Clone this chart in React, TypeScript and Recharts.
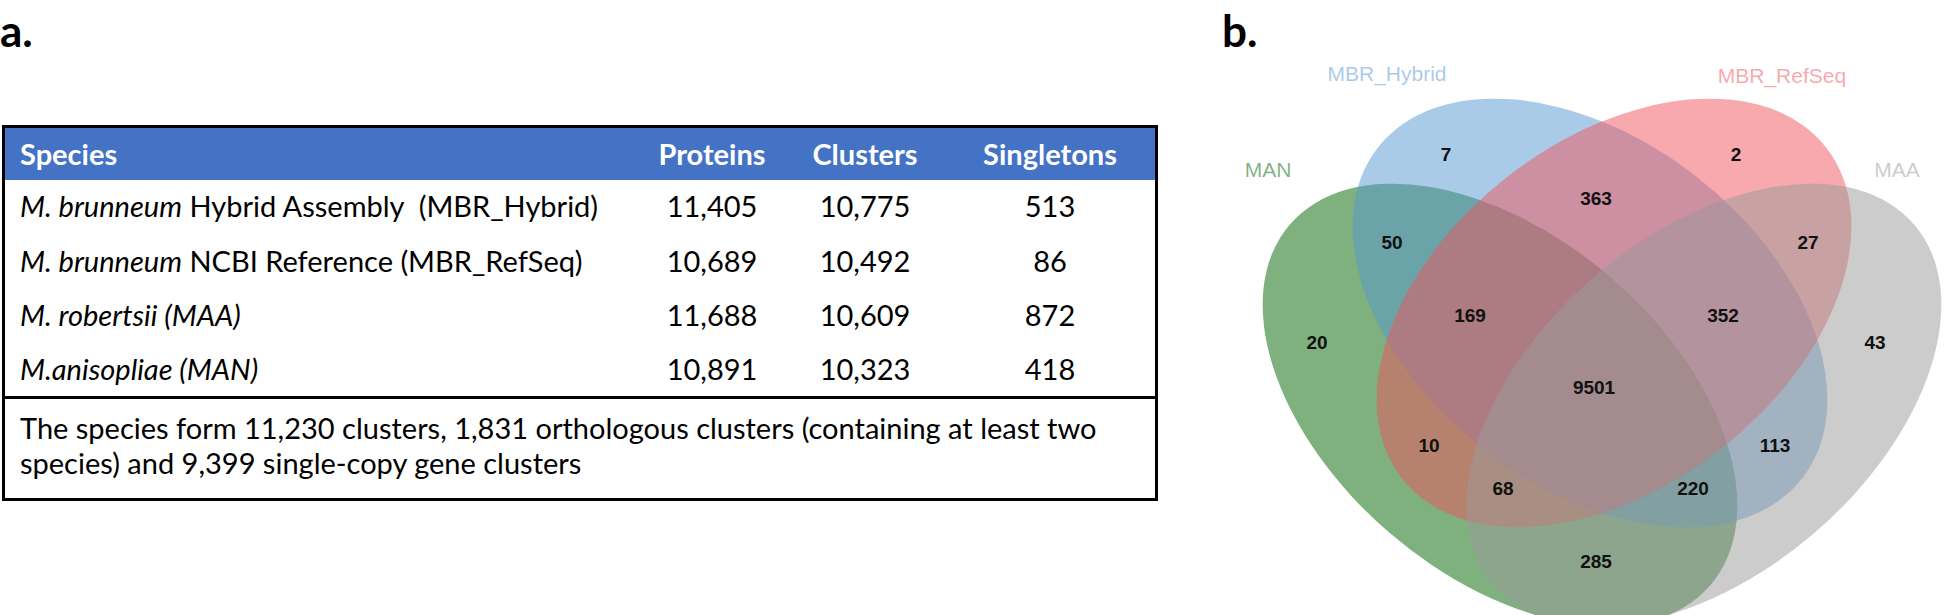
import React from "react";
import { ScatterChart, Scatter, XAxis, YAxis } from "recharts";

// ---- table (panel a) ----
const speciesItalic = ["M. brunneum", "M. brunneum", "M. robertsii (MAA)", "M.anisopliae (MAN)"];
const speciesRest = [" Hybrid Assembly  (MBR_Hybrid)", " NCBI Reference (MBR_RefSeq)", "", ""];
const proteins = [11405, 10689, 11688, 10891];
const clusters = [10775, 10492, 10609, 10323];
const singletons = [513, 86, 872, 418];
const headers = ["Species", "Proteins", "Clusters", "Singletons"];
const footnoteLines = [
  "The species form 11,230 clusters, 1,831 orthologous clusters (containing at least two",
  "species) and 9,399 single-copy gene clusters",
];

// ---- venn (panel b), diagram units ----
const setNames = ["MAN", "MBR_Hybrid", "MBR_RefSeq", "MAA"];
const setColors = ["#006400", "#5597D1", "#EF535B", "#999999"];
const setCenterX = [48.78, 63.41, 67.32, 81.95];
const setCenterY = [34.15, 49.11, 49.11, 34.15];
const setAxisA = [45.04, 43.74, 43.74, 45.04];
const setAxisB = [27.48, 28.13, 28.13, 27.48];
const setTilt = [-40.6, -37.9, 37.9, 40.6];
const setLabelX = [11.06, 30.41, 94.63, 113.33];
const setLabelY = [72.36, 88.0, 87.8, 72.36];

const regionCounts = [7, 2, 363, 50, 27, 169, 352, 20, 43, 9501, 10, 113, 68, 220, 285];
const regionX = [40.0, 87.15, 64.39, 31.22, 98.86, 43.9, 85.04, 19.02, 109.76, 64.07, 37.24, 93.5, 49.27, 80.16, 64.39];
const regionY = [74.8, 74.8, 67.8, 60.65, 60.65, 48.78, 48.78, 44.23, 44.23, 37.07, 27.64, 27.64, 20.65, 20.65, 8.62];

const CHART_W = 746;
const CHART_H = 615;
const PX = 6.15; // pixels per diagram unit (same on both axes)

const ellipses = setNames.map((name, i) => ({
  name,
  x: setCenterX[i],
  y: setCenterY[i],
  a: setAxisA[i],
  b: setAxisB[i],
  tilt: setTilt[i],
  color: setColors[i],
}));
const setLabels = setNames.map((name, i) => ({ name, x: setLabelX[i], y: setLabelY[i], color: setColors[i] }));
const regions = regionCounts.map((count, i) => ({ count, x: regionX[i], y: regionY[i] }));

const EllipseShape = (props: any) => {
  const { cx, cy, payload } = props;
  return (
    <ellipse
      cx={0}
      cy={0}
      rx={payload.a * PX}
      ry={payload.b * PX}
      fill={payload.color}
      fillOpacity={0.5}
      transform={`translate(${cx},${cy}) rotate(${-payload.tilt})`}
    />
  );
};

const SetLabel = (props: any) => {
  const { cx, cy, payload } = props;
  return (
    <text x={cx} y={cy} textAnchor="middle" dominantBaseline="central" fill={payload.color} fillOpacity={0.5}
      fontFamily="'Liberation Sans', Arial, sans-serif" fontSize={21}>
      {payload.name}
    </text>
  );
};

const CountLabel = (props: any) => {
  const { cx, cy, payload } = props;
  return (
    <text x={cx} y={cy} textAnchor="middle" dominantBaseline="central" fill="#111"
      fontFamily="'Liberation Sans Narrow', 'Liberation Sans', Arial, sans-serif" fontWeight="bold" fontSize={19}>
      {payload.count}
    </text>
  );
};

const font = "Lato, 'Open Sans', sans-serif";
const colCenters = [712, 865, 1050];
const rowCenters = [206, 261, 315, 369];

const cell = (text: string, center: number, mid: number, style: React.CSSProperties = {}) => (
  <div
    style={{
      position: "absolute",
      left: center - 80,
      width: 160,
      top: mid - 27,
      height: 54,
      lineHeight: "54px",
      textAlign: "center",
      ...style,
    }}
  >
    {text}
  </div>
);

export default function App() {
  return (
    <div style={{ position: "absolute", left: 0, top: 0, width: 1946, height: 615, background: "#fff", fontFamily: font, color: "#000" }}>
      <div style={{ position: "absolute", left: 0, top: 8, fontSize: 44, fontWeight: 700, lineHeight: "44px" }}>a.</div>
      <div style={{ position: "absolute", left: 1222, top: 8, fontSize: 44, fontWeight: 700, lineHeight: "44px" }}>b.</div>

      {/* table box */}
      <div style={{ position: "absolute", left: 2, top: 125, width: 1156, height: 376, border: "3px solid #000", boxSizing: "border-box" }} />
      <div style={{ position: "absolute", left: 5, top: 128, width: 1150, height: 52, background: "#4472C4" }} />
      <div style={{ position: "absolute", left: 5, top: 396, width: 1150, height: 3, background: "#000" }} />

      <div style={{ fontSize: 29, fontWeight: 700, color: "#fff" }}>
        <div style={{ position: "absolute", left: 20, top: 127, height: 54, lineHeight: "54px" }}>{headers[0]}</div>
        {headers.slice(1).map((h, i) => cell(h, colCenters[i], 154))}
      </div>

      <div style={{ fontSize: 29 }}>
        {speciesItalic.map((it, r) => (
          <div key={r}>
            <div style={{ position: "absolute", left: 20, top: rowCenters[r] - 27, height: 54, lineHeight: "54px", whiteSpace: "pre" }}>
              <i>{it}</i>
              {speciesRest[r]}
            </div>
            {cell(proteins[r].toLocaleString("en-US"), colCenters[0], rowCenters[r])}
            {cell(clusters[r].toLocaleString("en-US"), colCenters[1], rowCenters[r])}
            {cell(singletons[r].toLocaleString("en-US"), colCenters[2], rowCenters[r])}
          </div>
        ))}
      </div>

      <div style={{ position: "absolute", left: 20, top: 410, fontSize: 29, lineHeight: "35px", whiteSpace: "nowrap" }}>
        {footnoteLines.map((l, i) => (
          <div key={i}>{l}</div>
        ))}
      </div>

      {/* venn */}
      <div style={{ position: "absolute", left: 1200, top: 0 }}>
        <ScatterChart width={CHART_W} height={CHART_H} margin={{ top: 0, right: 0, bottom: 0, left: 0 }}>
          <XAxis type="number" dataKey="x" domain={[0, CHART_W / PX]} hide />
          <YAxis type="number" dataKey="y" domain={[0, CHART_H / PX]} hide />
          <Scatter data={ellipses} shape={EllipseShape} isAnimationActive={false} />
          <Scatter data={setLabels} shape={SetLabel} isAnimationActive={false} />
          <Scatter data={regions} shape={CountLabel} isAnimationActive={false} />
        </ScatterChart>
      </div>
    </div>
  );
}
